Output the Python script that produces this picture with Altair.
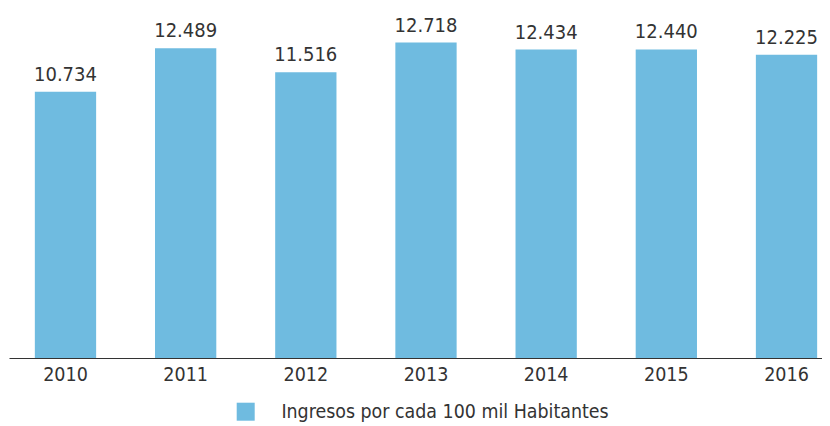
import altair as alt
import pandas as pd

years = ["2010", "2011", "2012", "2013", "2014", "2015", "2016"]
values = [10734, 12489, 11516, 12718, 12434, 12440, 12225]
series_name = "Ingresos por cada 100 mil Habitantes"
bar_color = "#6FBBE0"
text_color = "#333333"
font = "DejaVu Sans Condensed, Liberation Sans Narrow, Roboto, sans-serif"

df = pd.DataFrame({
    "year": years,
    "value": values,
    "label": [f"{v:,}".replace(",", ".") for v in values],
    "serie": [series_name] * len(years),
})

x = alt.X(
    "year:N",
    sort=years,
    scale=alt.Scale(paddingInner=0.49, paddingOuter=0.1277, align=0.842),
    axis=alt.Axis(
        title=None, labelAngle=0, ticks=False, domainColor=text_color,
        domainWidth=1.2, labelFont=font, labelFontSize=19.5, labelColor=text_color,
        labelPadding=7,
    ),
)
y = alt.Y("value:Q", scale=alt.Scale(domain=[0, 14110], nice=False), axis=None)

bars = alt.Chart(df).mark_bar().encode(
    x=x,
    y=y,
    color=alt.Color(
        "serie:N",
        scale=alt.Scale(range=[bar_color]),
        legend=alt.Legend(
            title=None, orient="none", legendX=227, legendY=394,
            symbolType="square", symbolSize=324, symbolStrokeWidth=0,
            symbolOpacity=1, labelFont=font, labelFontSize=19.4, labelLimit=0,
            labelColor=text_color, labelOffset=26, padding=0,
        ),
    ),
)

texts = alt.Chart(df).mark_text(
    baseline="alphabetic", dy=-11, font=font, fontSize=20, color=text_color
).encode(x=x, y=y, text="label:N")

chart = (bars + texts).properties(
    width=813, height=350,
    autosize=alt.AutoSizeParams(type="none"),
    padding={"left": 1, "top": 0, "right": 0, "bottom": 66},
).configure_view(stroke=None)

chart.save("out.html", embed_options={"renderer": "svg", "actions": False})
